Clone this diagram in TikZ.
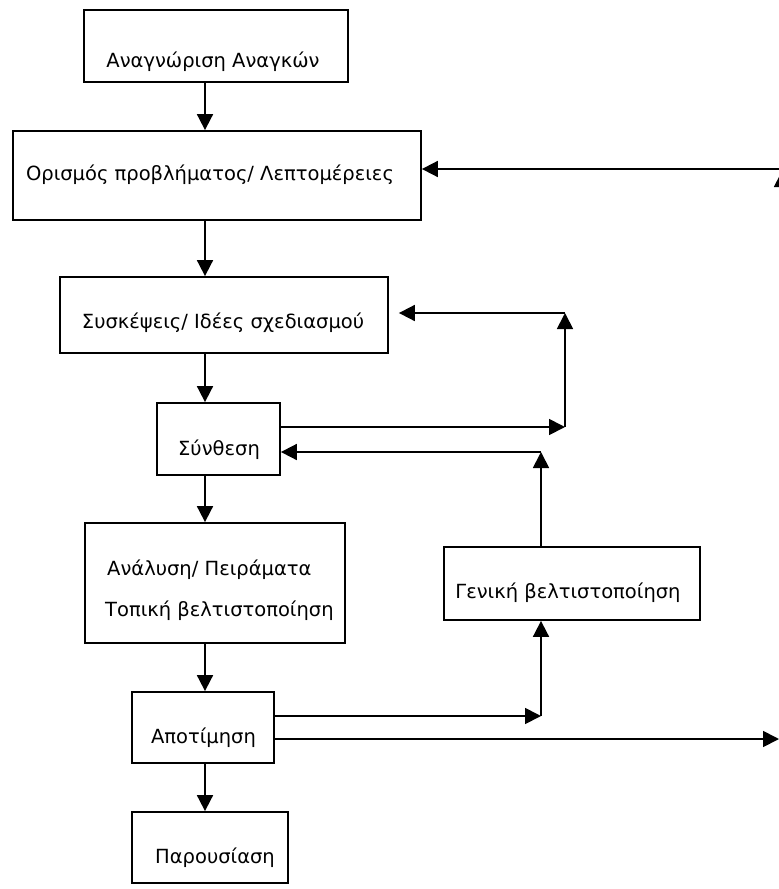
\documentclass[tikz,border=0pt]{standalone}
\usepackage{fontspec}
\setmainfont{DejaVu Sans}
\usetikzlibrary{arrows.meta}
\begin{document}
\begin{tikzpicture}[x=1pt,y=-1pt,
  box/.style={draw, line width=1.8pt, inner sep=0pt},
  txt/.style={inner sep=0pt, font=\fontsize{19.5}{23}\selectfont},
  arr/.style={line width=1.8pt, -{Triangle[length=16pt,width=16pt]}}]
\useasboundingbox (0,0) rectangle (779,889);
\clip (0,0) rectangle (779,889);
% boxes
\node[box, minimum width=264pt, minimum height=72pt] (n1) at (216,46) {};
\node[box, minimum width=408pt, minimum height=89pt] (n2) at (217,175.5) {};
\node[box, minimum width=328pt, minimum height=76pt] (n3) at (224,315) {};
\node[box, minimum width=123pt, minimum height=72pt] (n4) at (218.5,439) {};
\node[box, minimum width=260pt, minimum height=120pt] (n5) at (215,583) {};
\node[box, minimum width=256pt, minimum height=73pt] (n6) at (572,583.5) {};
\node[box, minimum width=142pt, minimum height=71pt] (n7) at (203,727.5) {};
\node[box, minimum width=156pt, minimum height=71pt] (n8) at (210,847.5) {};
% texts
\node[txt, anchor=base] (t1) at (213,67) {Αναγνώριση Αναγκών};
\node[txt, anchor=base] (t2) at (210,180) {Ορισμός προβλήματος/ Λεπτομέρειες};
\node[txt, anchor=base] (t3) at (223,328) {Συσκέψεις/ Ιδέες σχεδιασμού};
\node[txt, anchor=base] (t4) at (219,455) {Σύνθεση};
\node[txt, anchor=base west] (t5a) at (107,575) {Ανάλυση/ Πειράματα};
\node[txt, anchor=base west] (t5b) at (105,616) {Τοπική βελτιστοποίηση};
\node[txt, anchor=base] (t6) at (568,598) {Γενική βελτιστοποίηση};
\node[txt, anchor=base] (t7) at (203.5,743) {Αποτίμηση};
\node[txt, anchor=base] (t8) at (215,863) {Παρουσίαση};
% helper coordinates
\coordinate (ax) at (205,0);
\coordinate (a1) at (565,427);
\coordinate (a2) at (565,313);
\coordinate (b1) at (541,716);
\coordinate (b2) at (541,452);
\coordinate (r1) at (779,739);
\coordinate (r2) at (782,739);
\coordinate (r3) at (782,171);
\coordinate (r4) at (779,169);
% main column
\draw[arr] (n1.south -| ax) -- (n2.north -| ax);
\draw[arr] (n2.south -| ax) -- (n3.north -| ax);
\draw[arr] (n3.south -| ax) -- (n4.north -| ax);
\draw[arr] (n4.south -| ax) -- (n5.north -| ax);
\draw[arr] (n5.south -| ax) -- (n7.north -| ax);
\draw[arr] (n7.south -| ax) -- (n8.north -| ax);
% loop Synthesis -> Ideas
\draw[arr] (n4.east |- a1) -- (a1);
\draw[arr] (a1) -- (a2);
\draw[arr] (a2) -- ([xshift=10pt]n3.east |- a2);
% loop Evaluation -> global optimisation -> Synthesis
\draw[arr] (n7.east |- b1) -- (b1);
\draw[arr] (b1) -- (n6.south -| b1);
\draw[arr] (n6.north -| b2) -- (b2);
\draw[arr] (b2) -- (n4.east |- b2);
% outer loop
\draw[arr] (n7.east |- r1) -- (r1);
\draw[arr] (r2) -- (r3);
\draw[arr] (r4) -- (n2.east |- r4);
\end{tikzpicture}
\end{document}
